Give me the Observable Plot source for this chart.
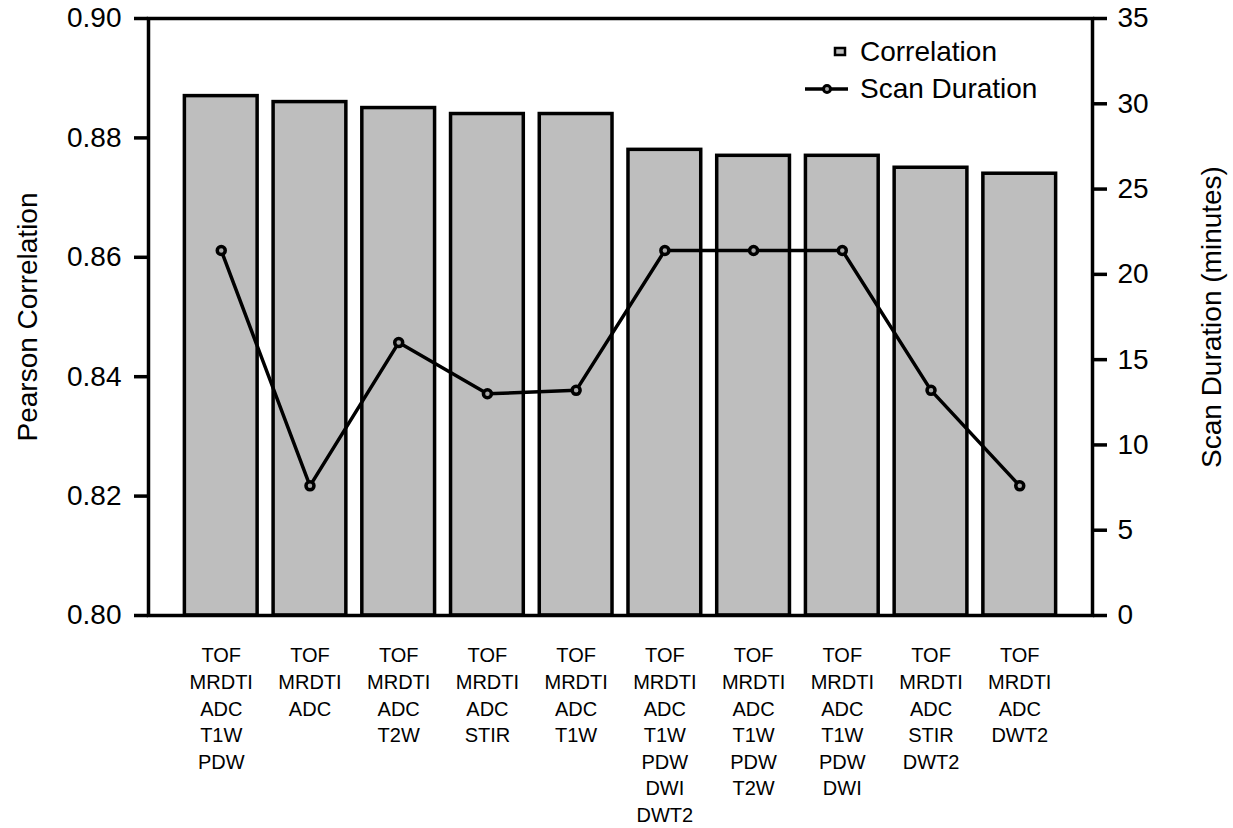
<!DOCTYPE html>
<html>
<head>
<meta charset="utf-8">
<script src="https://cdn.jsdelivr.net/npm/d3@7"></script>
<script src="https://cdn.jsdelivr.net/npm/@observablehq/plot@0.6"></script>
<style>
  html, body { margin: 0; padding: 0; background: white; }
  #chart svg { display: block; }
</style>
</head>
<body>
<div id="chart"></div>
<script>
// Categories (sequence combinations), one line per sequence
const categories = [
  "TOF\nMRDTI\nADC\nT1W\nPDW",
  "TOF\nMRDTI\nADC",
  "TOF\nMRDTI\nADC\nT2W",
  "TOF\nMRDTI\nADC\nSTIR",
  "TOF\nMRDTI\nADC\nT1W",
  "TOF\nMRDTI\nADC\nT1W\nPDW\nDWI\nDWT2",
  "TOF\nMRDTI\nADC\nT1W\nPDW\nT2W",
  "TOF\nMRDTI\nADC\nT1W\nPDW\nDWI",
  "TOF\nMRDTI\nADC\nSTIR\nDWT2",
  "TOF\nMRDTI\nADC\nDWT2"
];
// Pearson correlation (bars, left axis)
const correlation = [0.887, 0.886, 0.885, 0.884, 0.884, 0.878, 0.877, 0.877, 0.875, 0.874];
// Scan duration in minutes (line, right axis)
const scanDuration = [21.4, 7.6, 16.0, 13.0, 13.2, 21.4, 21.4, 21.4, 13.2, 7.6];
// Tick values
const corrTicks = [0.80, 0.82, 0.84, 0.86, 0.88, 0.90];
const durationTicks = [0, 5, 10, 15, 20, 25, 30, 35];

const corrDomain = [0.80, 0.90];
const durMax = 35;
const durToY = m => corrDomain[0] + (m / durMax) * (corrDomain[1] - corrDomain[0]);
const yToDur = v => (v - corrDomain[0]) / (corrDomain[1] - corrDomain[0]) * durMax;

const data = categories.map((c, i) => ({label: c, corr: correlation[i], dur: scanDuration[i]}));

const font = "'Liberation Sans', Arial, Helvetica, sans-serif";

const svg = Plot.plot({
  width: 1233,
  height: 828,
  marginLeft: 148,
  marginRight: 141,
  marginTop: 18,
  marginBottom: 213,
  style: {fontFamily: font, background: "white", color: "black", overflow: "visible"},
  x: {domain: categories, paddingInner: 0.18, paddingOuter: 0.41, round: false},
  y: {domain: corrDomain},
  marks: [
    Plot.barY(data, {x: "label", y1: corrDomain[0], y2: "corr", fill: "#bebebe", stroke: "black", strokeWidth: 3.5}),
    Plot.frame({stroke: "black", strokeWidth: 3.5}),
    Plot.axisY({anchor: "left", ticks: corrTicks, tickFormat: d3.format(".2f"), tickSize: 14, tickPadding: 13, fontSize: 28, strokeWidth: 3.5, label: null}),
    Plot.axisY({anchor: "right", ticks: durationTicks.map(durToY), tickFormat: v => String(Math.round(yToDur(v))), tickSize: 14, tickPadding: 11, fontSize: 28, strokeWidth: 3.5, label: null}),
    Plot.axisX({anchor: "bottom", tickSize: 0, tickPadding: 28, fontSize: 20, lineHeight: 1.33, lineAnchor: "top", label: null}),
    Plot.line(data, {x: "label", y: d => durToY(d.dur), stroke: "black", strokeWidth: 3.5}),
    Plot.dot(data, {x: "label", y: d => durToY(d.dur), r: 4, fill: "#aaaaaa", stroke: "black", strokeWidth: 3.5}),
    Plot.text(["Pearson Correlation"], {frameAnchor: "left", textAnchor: "middle", dx: -120, rotate: -90, fontSize: 28}),
    Plot.text(["Scan Duration (minutes)"], {frameAnchor: "right", textAnchor: "middle", dx: 120, rotate: -90, fontSize: 28})
  ]
});

// Legend (top right, inside the plot frame)
const g = d3.select(svg).append("g").attr("font-family", font).attr("font-size", 28).attr("text-anchor", "start");
g.append("rect").attr("x", 835).attr("y", 48).attr("width", 10).attr("height", 7)
  .attr("fill", "#bebebe").attr("stroke", "black").attr("stroke-width", 2.5);
g.append("text").attr("x", 860).attr("y", 61).text("Correlation");
g.append("line").attr("x1", 805).attr("x2", 848).attr("y1", 89).attr("y2", 89)
  .attr("stroke", "black").attr("stroke-width", 3.5);
g.append("circle").attr("cx", 827).attr("cy", 89).attr("r", 3.5)
  .attr("fill", "#aaaaaa").attr("stroke", "black").attr("stroke-width", 3);
g.append("text").attr("x", 860).attr("y", 98).text("Scan Duration");

document.getElementById("chart").appendChild(svg);
</script>
</body>
</html>
